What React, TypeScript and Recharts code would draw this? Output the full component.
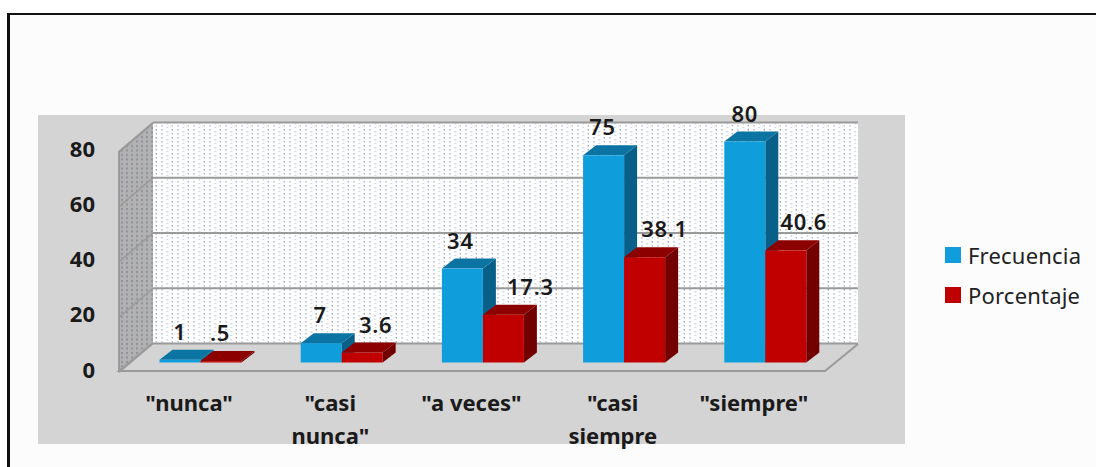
import React from "react";
import {
  BarChart,
  Bar,
  XAxis,
  YAxis,
  CartesianGrid,
  Legend,
  LabelList,
} from "recharts";

const categories = ['"nunca"', '"casi nunca"', '"a veces"', '"casi siempre', '"siempre"'];
const frecuencia = [1, 7, 34, 75, 80];
const porcentaje = [0.5, 3.6, 17.3, 38.1, 40.6];
const yTicks = [0, 20, 40, 60, 80];

// hand-placed label shifts, one per category
const frecuenciaNudge = [0, -1, -2, -1, 0];
const porcentajeNudge = [-1, 13.5, 27, 20, 18];

const data = categories.map((name, i) => ({
  name,
  Frecuencia: frecuencia[i],
  Porcentaje: porcentaje[i],
}));

const BLUE = "#0f9ddb";
const RED = "#c00000";
const WALL_LINE = "#9a9a9a";
const LABEL_FONT = "'Noto Sans', sans-serif";

// box depth of the fake 3D bars
const DX = 13;
const DY = 10;

function Box3D(props: any) {
  const { x, y, width, height, fill } = props;
  const top = fill === BLUE ? "#0b74a3" : "#8c0000";
  const side = fill === BLUE ? "#085f88" : "#730000";
  const r = x + width;
  const b = y + height;
  return (
    <g>
      <polygon points={`${r},${y} ${r + DX},${y - DY} ${r + DX},${b - DY} ${r},${b}`} fill={side} />
      <polygon points={`${x},${y} ${x + DX},${y - DY} ${r + DX},${y - DY} ${r},${y}`} fill={top} />
      <rect x={x} y={y} width={width} height={height} fill={fill} />
    </g>
  );
}

// panel, back wall, side wall and floor behind the plot
function Room() {
  return (
    <svg width={1096} height={467} style={{ position: "absolute", left: 0, top: 0 }}>
      <defs>
        <pattern id="backDots" width="16" height="8" patternUnits="userSpaceOnUse">
          <rect width="16" height="8" fill="#ffffff" />
          <rect x="1" y="1" width="2" height="1.5" fill="#c6cfdf" />
          <rect x="1" y="5" width="2" height="1.5" fill="#c6cfdf" />
          <rect x="6.3" y="3" width="2" height="1.5" fill="#d2d9e6" />
          <rect x="6.3" y="7" width="2" height="1" fill="#d2d9e6" />
          <rect x="11.6" y="1" width="1.4" height="1.5" fill="#8f9dba" />
          <rect x="11.6" y="5" width="1.4" height="1.5" fill="#a9b5cb" />
        </pattern>
        <pattern id="sideDots" width="5" height="4.5" patternUnits="userSpaceOnUse">
          <rect width="5" height="4.5" fill="#b2b2b2" />
          <rect x="1" y="1" width="2" height="2" fill="#8d929b" />
        </pattern>
      </defs>
      <rect x={38} y={115} width={867} height={329} fill="#d4d4d4" />
      <polygon points="153,123 858,123 858,343 153,343" fill="url(#backDots)" />
      <polygon points="119,152 153,123 153,343 119,372" fill="url(#sideDots)" />
      <polyline
        points="153,343 119,371 825,371 858,344"
        fill="none"
        stroke={WALL_LINE}
        strokeWidth={2}
      />
      <polyline points="119,371 119,152 153,123" fill="none" stroke={WALL_LINE} strokeWidth={2} />
    </svg>
  );
}

// grid lines run along the back wall and fold down the side wall
function WallLine(props: any) {
  const { y1 } = props;
  const y = y1 - 19;
  return (
    <g>
      <line x1={153} y1={y} x2={858} y2={y} stroke={WALL_LINE} strokeWidth={2} />
      <line x1={153} y1={y} x2={119} y2={y + 29} stroke={WALL_LINE} strokeWidth={1.5} />
    </g>
  );
}

function ValueTick(props: any) {
  const { y, payload } = props;
  return (
    <text
      x={95}
      y={y + 15}
      textAnchor="end"
      fontFamily={LABEL_FONT}
      fontWeight={700}
      fontSize={22}
      fill="#1a1a1a"
    >
      {payload.value}
    </text>
  );
}

function CategoryTick(props: any) {
  const { x, payload } = props;
  const value: string = payload.value;
  const lines = value.startsWith('"casi') ? value.split(" ") : [value];
  return (
    <text
      textAnchor="middle"
      fontFamily={LABEL_FONT}
      fontWeight={700}
      fontSize={22}
      fill="#1a1a1a"
    >
      {lines.map((line, i) => (
        <tspan key={line} x={x - 11} y={411 + i * 32.5}>
          {line}
        </tspan>
      ))}
    </text>
  );
}

const valueLabel = (nudge: number[]) => (props: any) => {
  const { x, y, width, value, index } = props;
  return (
    <text
      x={x + width / 2 + nudge[index]}
      y={y - 20}
      textAnchor="middle"
      fontFamily={LABEL_FONT}
      fontWeight={600}
      fontSize={22}
      letterSpacing={0.7}
      fill="#1a1a1a"
    >
      {String(value).replace(/^0/, "")}
    </text>
  );
};

function LegendBox({ payload }: any) {
  return (
    <div style={{ fontFamily: LABEL_FONT, fontSize: 22, color: "#222", letterSpacing: 0.2 }}>
      {payload.map((entry: any) => (
        <div key={entry.value} style={{ display: "flex", alignItems: "center", height: 40 }}>
          <span style={{ width: 16, height: 16, background: entry.color, marginRight: 7 }} />
          {entry.value}
        </div>
      ))}
    </div>
  );
}

export default function App() {
  return (
    <div
      style={{
        position: "absolute",
        left: 0,
        top: 0,
        width: 1096,
        height: 467,
        overflow: "hidden",
        background: "#ffffff",
      }}
    >
      <div
        style={{
          position: "absolute",
          left: 7,
          top: 13,
          right: 0,
          bottom: 0,
          borderLeft: "3px solid #111",
          borderTop: "2.5px solid #111",
          background: "#fcfcfc",
        }}
      />
      <Room />
      <BarChart
        width={1096}
        height={467}
        data={data}
        barSize={41}
        barGap={0}
        barCategoryGap={0}
        margin={{ top: 141.5, right: 260.5, left: 69.5, bottom: 44.5 }}
        style={{ position: "absolute", left: 0, top: 0 }}
      >
        <CartesianGrid vertical={false} horizontal={WallLine} />
        <XAxis
          dataKey="name"
          height={60}
          axisLine={false}
          tickLine={false}
          interval={0}
          tick={CategoryTick}
        />
        <YAxis
          width={60}
          domain={[0, 80]}
          ticks={yTicks}
          axisLine={false}
          tickLine={false}
          tick={ValueTick}
        />
        <Legend
          layout="vertical"
          align="center"
          verticalAlign="middle"
          content={LegendBox}
          wrapperStyle={{ left: 945, top: 235, width: 150 }}
        />
        <Bar dataKey="Frecuencia" fill={BLUE} shape={Box3D} isAnimationActive={false}>
          <LabelList dataKey="Frecuencia" content={valueLabel(frecuenciaNudge)} />
        </Bar>
        <Bar dataKey="Porcentaje" fill={RED} shape={Box3D} isAnimationActive={false}>
          <LabelList dataKey="Porcentaje" content={valueLabel(porcentajeNudge)} />
        </Bar>
      </BarChart>
    </div>
  );
}
